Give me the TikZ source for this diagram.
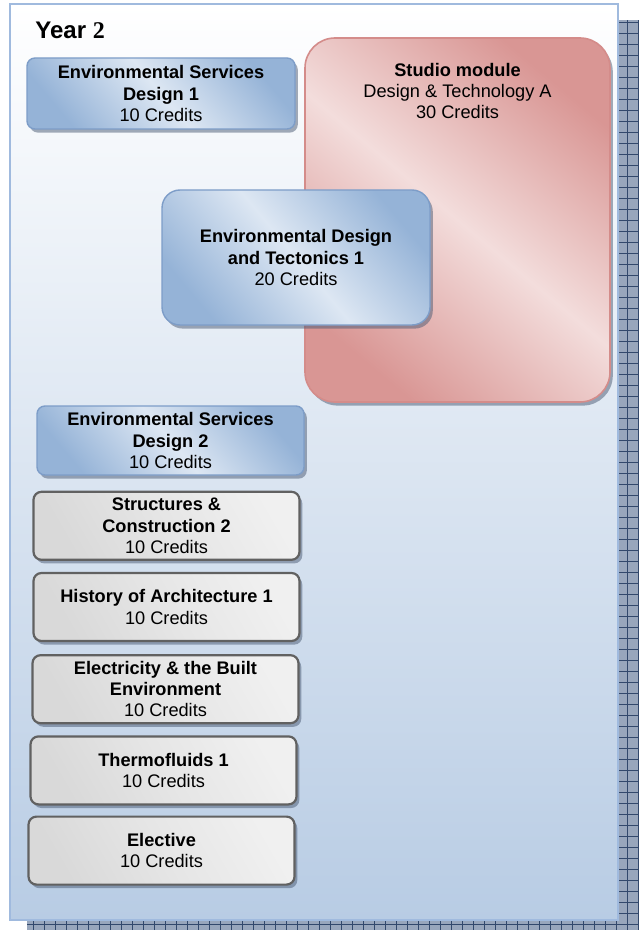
\documentclass[tikz,border=0pt]{standalone}
\usepackage{fontspec}
\setmainfont{Liberation Sans}
\newfontfamily\yearfont{Liberation Serif}
\usetikzlibrary{positioning, shadows}

\definecolor{unitblue}{RGB}{149,179,215}
\definecolor{unitbluelight}{RGB}{221,231,243}
\definecolor{unitblueline}{RGB}{125,157,200}
\definecolor{studiored}{RGB}{217,150,148}
\definecolor{studiolight}{RGB}{243,221,220}
\definecolor{studioline}{RGB}{212,140,138}
\definecolor{panelblue}{RGB}{184,204,228}
\definecolor{panelline}{RGB}{160,186,222}
\definecolor{hatchfill}{RGB}{152,166,188}
\definecolor{hatchline}{RGB}{50,72,108}

\begin{document}
\begin{tikzpicture}[
        x=0.5pt, y=-0.5pt,
        font=\fontsize{9.1}{10.6}\selectfont,
        unitshadow/.style={drop shadow={shadow xshift=1.4pt, shadow yshift=-1.8pt, fill=hatchline!70!gray, opacity=.5}},
        blueunit/.style={draw=unitblueline, line width=.7pt, rounded corners=4pt, align=center, inner sep=2pt,
            minimum width=134pt, minimum height=35.5pt,
            top color=unitblue, bottom color=unitblue, middle color=unitbluelight, shading angle=-50, unitshadow},
        greyunit/.style={draw=black!62, line width=1.1pt, rounded corners=4pt, align=center, inner sep=2pt,
            minimum width=133pt, minimum height=34pt,
            top color=black!6, bottom color=black!15, middle color=black!10, shading angle=-60, unitshadow},
        studiounit/.style={draw=studioline, line width=.8pt, rounded corners=15pt,
            minimum width=152.5pt, minimum height=182pt,
            top color=studiored, bottom color=studiored, middle color=studiolight, shading angle=-40, unitshadow}
    ]
        \useasboundingbox (0,0) rectangle (638,930);

        % panel with its hatched shadow
        \fill[hatchfill] (27,20) rectangle (660,950);
        \begin{scope}
            \clip (27,20) rectangle (660,950);
            \draw[hatchline, line width=.35pt, step=5.5pt] (27,20) grid (660,950);
        \end{scope}
        \draw[panelline, line width=1pt, top color=white, bottom color=panelblue] (10,4) rectangle (618,920);

        \node[anchor=base west, inner sep=0pt, font=\fontsize{12}{14}\selectfont\bfseries] (title) at (35,39) {Year {\yearfont 2}};

        \node[studiounit, label={[align=center, anchor=north, yshift=-9.5pt]north:{\textbf{Studio module}\\Design \& Technology A\\30 Credits}}] (studio) at (457.5,220) {};

        \node[blueunit] (esdone) at (161,93.5) {\textbf{Environmental Services}\\\textbf{Design 1}\\10 Credits};
        \node[blueunit, minimum height=67.5pt, rounded corners=9pt] (edt) at (296,257.5) {\textbf{Environmental Design}\\\textbf{and Tectonics 1}\\20 Credits};
        \node[blueunit, minimum width=133.5pt, minimum height=34.5pt] (esdtwo) at (170.5,440.5) {\textbf{Environmental Services}\\\textbf{Design 2}\\10 Credits};

        \node[greyunit, below=7.5pt of esdtwo, xshift=-2pt] (struct) {\textbf{Structures \&}\\\textbf{Construction 2}\\10 Credits};
        \node[greyunit, below=5.5pt of struct] (hist) {\textbf{History of Architecture 1}\\10 Credits};
        \node[greyunit, below=6pt of hist, xshift=-.5pt] (elec) {\textbf{Electricity \& the Built}\\\textbf{Environment}\\10 Credits};
        \node[greyunit, below=5.5pt of elec, xshift=-1pt] (thermo) {\textbf{Thermofluids 1}\\10 Credits};
        \node[greyunit, below=5pt of thermo, xshift=-1pt] (elective) {\textbf{Elective}\\10 Credits};
    \end{tikzpicture}
\end{document}
